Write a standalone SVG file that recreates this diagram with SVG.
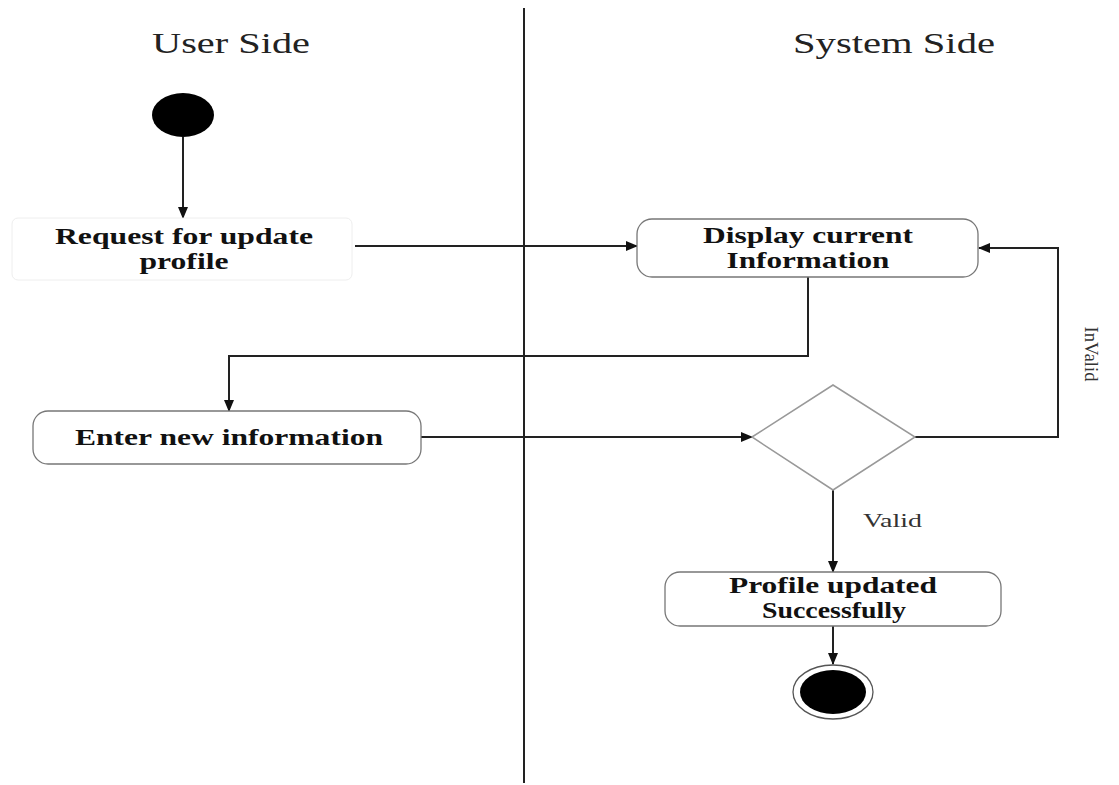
<svg xmlns="http://www.w3.org/2000/svg" width="1119" height="785" viewBox="0 0 1119 785">
<style>
.lane{font-family:"Liberation Serif",serif;font-size:29px;fill:#222;text-anchor:middle}
.t{font-family:"Liberation Serif",serif;font-size:23px;font-weight:bold;fill:#111;text-anchor:middle}
.lbl{font-family:"Liberation Serif",serif;font-size:19px;fill:#333}
.box{fill:#fff;stroke:#777;stroke-width:1.3}
.c{fill:none;stroke:#222;stroke-width:2}
</style>
<defs>
<marker id="ah" markerWidth="12" markerHeight="10" refX="11" refY="5" orient="auto" markerUnits="userSpaceOnUse">
<path d="M0,0 L12,5 L0,10 Z" fill="#111"/>
</marker>
</defs>
<rect width="1119" height="785" fill="#fff"/>
<line x1="524" y1="8" x2="524" y2="783" stroke="#222" stroke-width="2"/>
<text class="lane" x="231" y="53" textLength="158" lengthAdjust="spacingAndGlyphs">User Side</text>
<text class="lane" x="894" y="53" textLength="202" lengthAdjust="spacingAndGlyphs">System Side</text>
<g id="connectors">
<line class="c" x1="183" y1="137" x2="183" y2="218" marker-end="url(#ah)"/>
<line class="c" x1="355" y1="246" x2="637" y2="246" marker-end="url(#ah)"/>
<polyline class="c" points="808,277 808,356 229,356 229,411" marker-end="url(#ah)"/>
<line class="c" x1="421" y1="437" x2="752" y2="437" marker-end="url(#ah)"/>
<polyline class="c" points="915,437 1058,437 1058,248 979,248" marker-end="url(#ah)"/>
<line class="c" x1="833" y1="490" x2="833" y2="572" marker-end="url(#ah)"/>
<line class="c" x1="833" y1="626" x2="833" y2="664" marker-end="url(#ah)"/>
<text class="lbl" x="863" y="527" textLength="59" lengthAdjust="spacingAndGlyphs">Valid</text>
<text class="lbl" transform="translate(1085,354) rotate(90)" text-anchor="middle" textLength="55" lengthAdjust="spacingAndGlyphs">InValid</text>
</g>
<g id="start"><ellipse cx="183" cy="115" rx="31" ry="22" fill="#000"/></g>
<g id="request">
<rect x="12" y="218" width="340" height="62" rx="6" fill="#fff" stroke="#eee" stroke-width="1"/>
<text class="t" x="184" y="244" textLength="258" lengthAdjust="spacingAndGlyphs">Request for update</text>
<text class="t" x="184" y="269" textLength="89" lengthAdjust="spacingAndGlyphs">profile</text>
</g>
<g id="display">
<rect class="box" x="637" y="219" width="341" height="58" rx="15"/>
<text class="t" x="808" y="243" textLength="210" lengthAdjust="spacingAndGlyphs">Display current</text>
<text class="t" x="808" y="268" textLength="163" lengthAdjust="spacingAndGlyphs">Information</text>
</g>
<g id="enter">
<rect class="box" x="33" y="411" width="388" height="53" rx="15"/>
<text class="t" x="229" y="445" textLength="308" lengthAdjust="spacingAndGlyphs">Enter new information</text>
</g>
<g id="decision">
<polygon points="752,437 833,385 915,437 833,490" fill="#fff" stroke="#999" stroke-width="1.5"/>
</g>
<g id="profile">
<rect class="box" x="665" y="572" width="336" height="54" rx="15"/>
<text class="t" x="833" y="593" textLength="208" lengthAdjust="spacingAndGlyphs">Profile updated</text>
<text class="t" x="834" y="618" textLength="144" lengthAdjust="spacingAndGlyphs">Successfully</text>
</g>
<g id="end">
<ellipse cx="833" cy="692" rx="40" ry="27" fill="#fff" stroke="#555" stroke-width="1.3"/>
<ellipse cx="833" cy="692" rx="33" ry="22" fill="#000"/>
</g>
</svg>
